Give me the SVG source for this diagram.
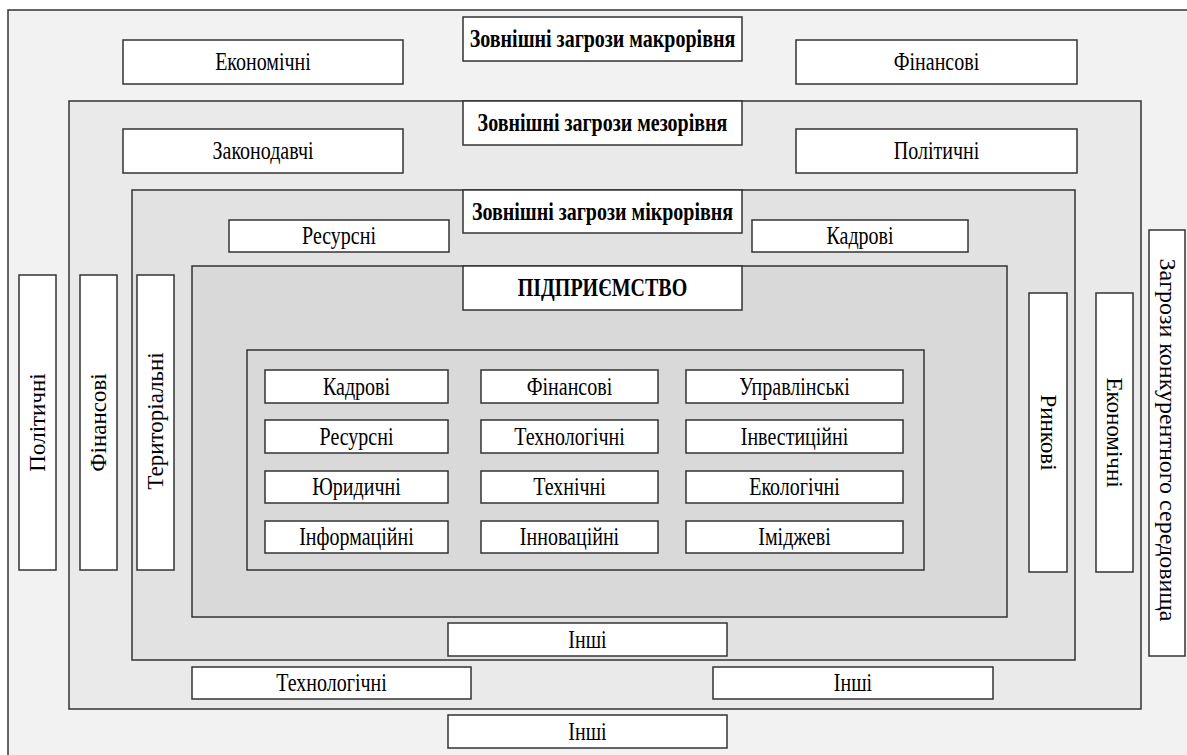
<svg xmlns="http://www.w3.org/2000/svg" width="1187" height="755" viewBox="0 0 1187 755" font-family="'Liberation Serif', 'Times New Roman', 'DejaVu Serif', serif">
<style>
.frame{stroke:#333;stroke-width:1.5}
.box{fill:#fff;stroke:#333;stroke-width:1.5}
.t{font-family:'Liberation Serif','Times New Roman','DejaVu Serif',serif;font-size:20px;fill:#000;text-anchor:middle}
.v{font-size:23px}
.b{font-weight:bold}
</style>
<rect width="1187" height="755" fill="#fff"/>
<g id="macro-level">
<rect class="frame" x="8" y="10" width="1200" height="760" fill="#f2f2f2"/>
</g>
<g id="meso-level">
<rect class="frame" x="69" y="101" width="1072" height="608" fill="#eaeaea"/>
</g>
<g id="micro-level">
<rect class="frame" x="132" y="190" width="943" height="470" fill="#e2e2e2"/>
</g>
<g id="enterprise">
<rect class="frame" x="192" y="266" width="815" height="351" fill="#d9d9d9"/>
</g>
<g id="internal">
<rect class="frame" x="247" y="350" width="677" height="220" fill="#d9d9d9"/>
</g>
<g id="connectors"></g>

<g id="macro-title"><rect class="box" x="463" y="17" width="279" height="44"/><text class="t b" transform="translate(602.5,39) scale(1,1.25)" y="6.5">Зовнішні загрози макрорівня</text></g>
<g id="macro-econ"><rect class="box" x="123" y="40" width="280" height="44"/><text class="t" transform="translate(263,62) scale(1,1.25)" y="6.5">Економічні</text></g>
<g id="macro-fin"><rect class="box" x="796" y="40" width="281" height="44"/><text class="t" transform="translate(936.5,62) scale(1,1.25)" y="6.5">Фінансові</text></g>

<g id="meso-title"><rect class="box" x="463" y="101" width="279" height="44"/><text class="t b" transform="translate(602.5,123) scale(1,1.25)" y="6.5">Зовнішні загрози мезорівня</text></g>
<g id="meso-law"><rect class="box" x="123" y="129" width="280" height="44"/><text class="t" transform="translate(263,151) scale(1,1.25)" y="6.5">Законодавчі</text></g>
<g id="meso-pol"><rect class="box" x="796" y="129" width="281" height="44"/><text class="t" transform="translate(936.5,151) scale(1,1.25)" y="6.5">Політичні</text></g>

<g id="micro-title"><rect class="box" x="463" y="190" width="279" height="43"/><text class="t b" transform="translate(602.5,211.5) scale(1,1.25)" y="6.5">Зовнішні загрози мікрорівня</text></g>
<g id="micro-res"><rect class="box" x="229" y="220" width="220" height="32"/><text class="t" transform="translate(339,236) scale(1,1.25)" y="6.5">Ресурсні</text></g>
<g id="micro-staff"><rect class="box" x="752" y="220" width="216" height="32"/><text class="t" transform="translate(860,236) scale(1,1.25)" y="6.5">Кадрові</text></g>

<g id="enterprise-title"><rect class="box" x="463" y="266" width="279" height="44"/><text class="t b" transform="translate(602.5,288) scale(1,1.25)" y="6.5">ПІДПРИЄМСТВО</text></g>

<g id="in-1"><rect class="box" x="265" y="370" width="183" height="33"/><text class="t" transform="translate(356.5,386.5) scale(1,1.25)" y="6.5">Кадрові</text></g>
<g id="in-2"><rect class="box" x="481" y="370" width="177" height="33"/><text class="t" transform="translate(569.5,386.5) scale(1,1.25)" y="6.5">Фінансові</text></g>
<g id="in-3"><rect class="box" x="686" y="370" width="217" height="33"/><text class="t" transform="translate(794.5,386.5) scale(1,1.25)" y="6.5">Управлінські</text></g>
<g id="in-4"><rect class="box" x="265" y="420" width="183" height="33"/><text class="t" transform="translate(356.5,436.5) scale(1,1.25)" y="6.5">Ресурсні</text></g>
<g id="in-5"><rect class="box" x="481" y="420" width="177" height="33"/><text class="t" transform="translate(569.5,436.5) scale(1,1.25)" y="6.5">Технологічні</text></g>
<g id="in-6"><rect class="box" x="686" y="420" width="217" height="33"/><text class="t" transform="translate(794.5,436.5) scale(1,1.25)" y="6.5">Інвестиційні</text></g>
<g id="in-7"><rect class="box" x="265" y="471" width="183" height="32"/><text class="t" transform="translate(356.5,487) scale(1,1.25)" y="6.5">Юридичні</text></g>
<g id="in-8"><rect class="box" x="481" y="471" width="177" height="32"/><text class="t" transform="translate(569.5,487) scale(1,1.25)" y="6.5">Технічні</text></g>
<g id="in-9"><rect class="box" x="686" y="471" width="217" height="32"/><text class="t" transform="translate(794.5,487) scale(1,1.25)" y="6.5">Екологічні</text></g>
<g id="in-10"><rect class="box" x="265" y="521" width="183" height="32"/><text class="t" transform="translate(356.5,537) scale(1,1.25)" y="6.5">Інформаційні</text></g>
<g id="in-11"><rect class="box" x="481" y="521" width="177" height="32"/><text class="t" transform="translate(569.5,537) scale(1,1.25)" y="6.5">Інноваційні</text></g>
<g id="in-12"><rect class="box" x="686" y="521" width="217" height="32"/><text class="t" transform="translate(794.5,537) scale(1,1.25)" y="6.5">Іміджеві</text></g>

<g id="macro-pol"><rect class="box" x="19" y="275" width="37" height="295"/><text class="t v" transform="translate(37.5,422.5) rotate(-90)" y="7.5">Політичні</text></g>
<g id="meso-fin"><rect class="box" x="80" y="275" width="37" height="295"/><text class="t v" transform="translate(98.5,422.5) rotate(-90)" y="7.5">Фінансові</text></g>
<g id="micro-terr"><rect class="box" x="137" y="275" width="37" height="295"/><text class="t v" transform="translate(155.5,421) rotate(-90)" y="7.5">Територіальні</text></g>
<g id="micro-market"><rect class="box" x="1029" y="293" width="38" height="279"/><text class="t v" transform="translate(1048,432.5) rotate(90)" y="7.5">Ринкові</text></g>
<g id="meso-econ"><rect class="box" x="1096" y="293" width="37" height="279"/><text class="t v" transform="translate(1114.5,432.5) rotate(90)" y="7.5">Економічні</text></g>
<g id="competitive"><rect class="box" x="1149" y="230" width="36" height="426"/><text class="t v" style="font-size:24px" transform="translate(1167,440) rotate(90)" y="7.5">Загрози конкурентного середовища</text></g>

<g id="micro-other"><rect class="box" x="448" y="623" width="279" height="33"/><text class="t" transform="translate(587.5,639.5) scale(1,1.25)" y="6.5">Інші</text></g>
<g id="meso-tech"><rect class="box" x="192" y="667" width="279" height="32"/><text class="t" transform="translate(331.5,683) scale(1,1.25)" y="6.5">Технологічні</text></g>
<g id="meso-other"><rect class="box" x="713" y="667" width="280" height="32"/><text class="t" transform="translate(853,683) scale(1,1.25)" y="6.5">Інші</text></g>
<g id="macro-other"><rect class="box" x="448" y="715" width="279" height="33"/><text class="t" transform="translate(587.5,731.5) scale(1,1.25)" y="6.5">Інші</text></g>
</svg>
